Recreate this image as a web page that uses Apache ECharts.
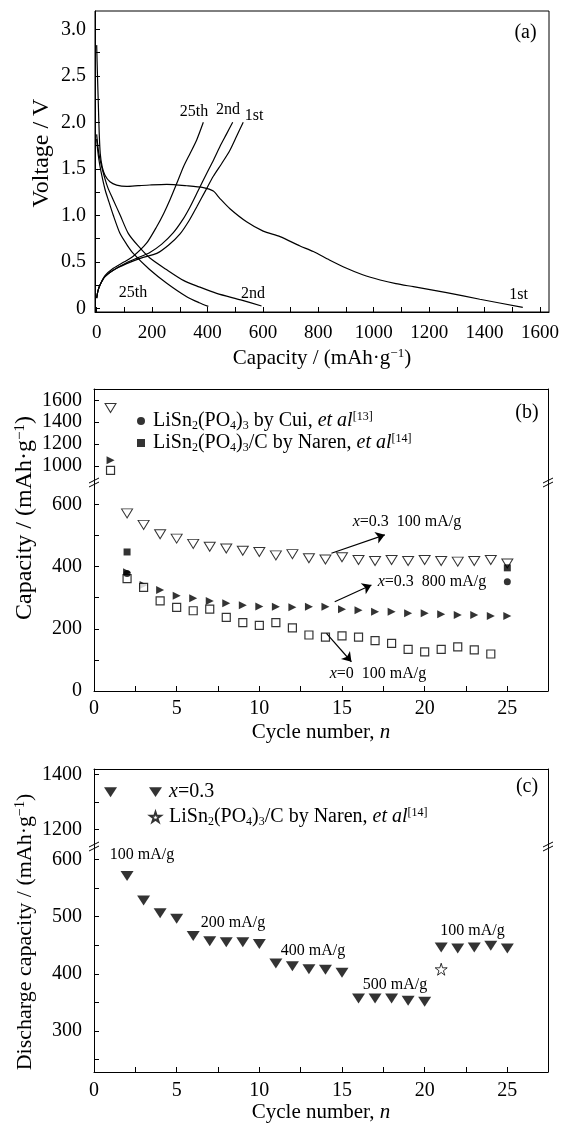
<!DOCTYPE html>
<html>
<head>
<meta charset="utf-8">
<script src="https://cdn.jsdelivr.net/npm/echarts@6/dist/echarts.min.js"></script>
<style>
  html, body { margin: 0; padding: 0; background: #fff; }
  #chart { width: 573px; height: 1126px; }
</style>
</head>
<body>
<div id="chart"></div>
<script>
// ---- panel (a): voltage profiles, [capacity mAh/g, voltage V]
const discharge1 = [[0,2.83],[3,2.5],[6,2.2],[9,1.9],[13,1.66],[20,1.52],[30,1.43],[48,1.36],[72,1.325],[108,1.31],[150,1.318],[192,1.326],[253,1.333],[325,1.318],[385,1.298],[421,1.26],[445,1.18],[481,1.07],[541,0.93],[601,0.83],[662,0.77],[734,0.67],[782,0.61],[840,0.52],[902,0.43],[960,0.36],[1023,0.304],[1080,0.265],[1143,0.232],[1263,0.168],[1383,0.097],[1538,0.01]];
const charge1 = [[0,0.11],[4,0.18],[12,0.25],[30,0.34],[60,0.41],[108,0.48],[160,0.54],[217,0.59],[260,0.68],[301,0.8],[335,0.95],[361,1.09],[392,1.26],[421,1.42],[452,1.56],[481,1.7],[505,1.85],[529,2.0]];
const discharge2 = [[0,1.87],[3,1.78],[8,1.66],[20,1.5],[40,1.3],[60,1.165],[85,1.0],[114,0.806],[150,0.67],[192,0.54],[250,0.42],[313,0.3],[370,0.23],[433,0.16],[520,0.09],[595,0.025]];
const charge2 = [[0,0.11],[4,0.18],[12,0.25],[30,0.34],[60,0.41],[108,0.49],[150,0.545],[192,0.6],[235,0.69],[276,0.81],[310,0.95],[337,1.09],[367,1.27],[397,1.45],[421,1.59],[445,1.74],[468,1.87],[491,2.0]];
const discharge25 = [[0,1.82],[3,1.72],[8,1.6],[15,1.48],[30,1.28],[42,1.165],[60,1.0],[84,0.806],[110,0.68],[132,0.59],[190,0.42],[253,0.27],[325,0.125],[370,0.06],[403,0.02]];
const charge25 = [[0,0.11],[4,0.18],[12,0.25],[30,0.35],[60,0.43],[100,0.5],[132,0.56],[180,0.7],[217,0.88],[242,1.02],[265,1.17],[290,1.35],[313,1.52],[338,1.67],[361,1.81],[385,2.0]];

// ---- panel (b): cycling, capacity mAh/g
const cycles = [1,2,3,4,5,6,7,8,9,10,11,12,13,14,15,16,17,18,19,20,21,22,23,24,25];
const x03at100 = [1530,571,534,504,490,473,464,458,451,447,436,440,427,423,430,421,418,421,418,421,418,416,418,421,410];
const x03at800 = [1052,382,341,325,306,298,289,282,276,272,271,269,271,271,263,260,255,255,250,250,247,244,244,241,241];
const x0at100 = [961,361,333,290,269,258,263,237,220,211,220,203,180,173,177,173,162,153,134,126,134,142,132,119];
const cuiCycles = [2, 25];
const cuiValues = [378, 351];
const narenCycles = [2, 25];
const narenValues = [447, 396];

// ---- panel (c): rate capability, discharge capacity mAh/g
const rateValues = [1335,571,528,506,496,466,457,455,455,452,418,413,408,407,402,357,357,357,353,351,446,444,446,449,444];
const narenRateCycles = [21];
const narenRateValues = [408];

// ---- tick values
const capTicksA = [0,200,400,600,800,1000,1200,1400,1600];
const capMinorA = [0,100,200,300,400,500,600,700,800,900,1000,1100,1200,1300,1400,1500,1600];
const voltTicks = [0,0.5,1.0,1.5,2.0,2.5,3.0];
const voltMinor = [0,0.25,0.5,0.75,1.0,1.25,1.5,1.75,2.0,2.25,2.5,2.75,3.0];
const cycleTicks = [0,5,10,15,20,25];
const cycleMinor = [2.5,5,7.5,10,12.5,15,17.5,20,22.5,25];
const capTicksBUp = [1000,1200,1400,1600];
const capTicksBLow = [0,200,400,600];
const capMinorBLow = [100,200,300,400,500,600];
const capTicksCUp = [1200,1400];
const capMinorCUp = [1200,1300,1400];
const capTicksCLow = [300,400,500,600];
const capMinorCLow = [250,300,350,400,450,500,550,600];

const SERIF = "'Liberation Serif', 'Times New Roman', serif";

function richSet(size) {
  return {
    n: { fontFamily: SERIF, fontSize: size, color: '#000' },
    i: { fontFamily: SERIF, fontSize: size, fontStyle: 'italic', color: '#000' },
    sup: { fontFamily: SERIF, fontSize: Math.round(size * 0.62), color: '#000', padding: [0, 0, 9, 0] },
    sub: { fontFamily: SERIF, fontSize: Math.round(size * 0.62), color: '#000', padding: [9, 0, 0, 0] }
  };
}

function split(cyc, vals, upper) {
  const out = [];
  vals.forEach((v, i) => {
    if ((v >= 800) === upper) out.push([cyc[i], v]);
  });
  return out;
}
function pairs(cyc, vals) {
  return vals.map((v, i) => [cyc[i], v]);
}

const black = { color: '#000' };
const plain = v => String(v);

function bottomX(grid, min, max, labels, ticks, name, labelSize, margin, gap) {
  return {
    type: 'value', gridIndex: grid, min: min, max: max, position: 'bottom',
    axisLine: { show: true, onZero: false, lineStyle: { color: '#000', width: 1 } },
    axisTick: { show: true, inside: true, length: 5, customValues: ticks, lineStyle: black },
    axisLabel: { customValues: labels, fontFamily: SERIF, fontSize: labelSize, color: '#000', margin: margin, formatter: plain },
    splitLine: { show: false },
    name: name, nameLocation: 'middle', nameGap: gap,
    nameTextStyle: { rich: richSet(21) }
  };
}
function topX(grid, min, max) {
  return {
    type: 'value', gridIndex: grid, min: min, max: max, position: 'top',
    axisLine: { show: true, onZero: false, lineStyle: { color: '#000', width: 1 } },
    axisTick: { show: false }, axisLabel: { show: false }, splitLine: { show: false }
  };
}
function leftY(grid, min, max, labels, ticks, margin, fmt) {
  return {
    type: 'value', gridIndex: grid, min: min, max: max, position: 'left',
    axisLine: { show: true, onZero: false, lineStyle: { color: '#000', width: 1 } },
    axisTick: { show: true, inside: true, length: 5, customValues: ticks, lineStyle: black },
    axisLabel: { customValues: labels, fontFamily: SERIF, fontSize: 20, color: '#000', margin: margin, formatter: fmt || plain },
    splitLine: { show: false }
  };
}
function rightY(grid, min, max) {
  return {
    type: 'value', gridIndex: grid, min: min, max: max, position: 'right',
    axisLine: { show: true, onZero: false, lineStyle: { color: '#000', width: 1 } },
    axisTick: { show: false }, axisLabel: { show: false }, splitLine: { show: false }
  };
}

function curve(data) {
  return {
    type: 'line', xAxisIndex: 0, yAxisIndex: 0, data: data, smooth: 0.25,
    showSymbol: false, lineStyle: { color: '#000', width: 1.2 }, silent: true
  };
}

const openDown = { symbol: 'triangle', symbolRotate: 180, symbolSize: [11, 9],
  itemStyle: { color: '#fff', borderColor: '#000', borderWidth: 1 } };
const filledRight = { symbol: 'triangle', symbolRotate: -90, symbolSize: [8, 8],
  itemStyle: { color: '#000' } };
const openSquare = { symbol: 'rect', symbolSize: 8,
  itemStyle: { color: '#fff', borderColor: '#000', borderWidth: 1.2 } };
const filledDown = { symbol: 'triangle', symbolRotate: 180, symbolSize: [13, 10],
  itemStyle: { color: '#000' } };
const STAR = 'path://M50,0 L61,35 L98,35 L68,57 L79,91 L50,70 L21,91 L32,57 L2,35 L39,35 Z';
const DOWN = 'path://M0,0 L12,0 L6,9 Z';

function scatter(name, xi, yi, data, look) {
  return Object.assign({ type: 'scatter', name: name, xAxisIndex: xi, yAxisIndex: yi, data: data, silent: true }, look);
}

const legendText = {
  cui: '{n|LiSn}{sub|2}{n|(PO}{sub|4}{n|)}{sub|3}{n| by Cui, }{i|et al}{sup|[13]}',
  narenB: '{n|LiSn}{sub|2}{n|(PO}{sub|4}{n|)}{sub|3}{n|/C by Naren, }{i|et al}{sup|[14]}',
  x03: '{i|x}{n|=0.3}',
  narenC: '{n|LiSn}{sub|2}{n|(PO}{sub|4}{n|)}{sub|3}{n|/C by Naren, }{i|et al}{sup|[14]}'
};

function arrow(from, to) {
  return { silent: true, symbol: ['none', 'arrow'], symbolSize: 9, animation: false,
    label: { show: false }, lineStyle: { color: '#000', width: 1.2, type: 'solid' },
    data: [[{ coord: from }, { coord: to }]] };
}

function label(text, x, y, size) {
  return { type: 'text', x: x, y: y, z: 50,
    style: { text: text, rich: richSet(size), fontFamily: SERIF, fontSize: size, fill: '#000', align: 'center', verticalAlign: 'middle' } };
}
function vLabel(text, x, y, size) {
  const t = label(text, x, y, size);
  t.rotation = Math.PI / 2;
  return t;
}
function breakMark(x, y) {
  return { type: 'group', x: x, y: y, z: 60, children: [
    { type: 'rect', shape: { x: -2, y: -1.2, width: 4, height: 3.4 }, style: { fill: '#fff' } },
    { type: 'line', shape: { x1: -5, y1: 1, x2: 5, y2: -4 }, style: { stroke: '#000', lineWidth: 1 } },
    { type: 'line', shape: { x1: -5, y1: 5, x2: 5, y2: 0 }, style: { stroke: '#000', lineWidth: 1 } }
  ] };
}

const chart = echarts.init(document.getElementById('chart'));

const option = {
  animation: false,
  backgroundColor: '#fff',
  grid: [
    { left: 95, top: 11, width: 454, height: 301, show: true, borderColor: '#000', borderWidth: 1 },
    { left: 94, top: 389, width: 454, height: 93 },
    { left: 94, top: 482, width: 454, height: 209 },
    { left: 94, top: 769, width: 454, height: 77 },
    { left: 94, top: 846, width: 454, height: 226 }
  ],
  xAxis: [
    bottomX(0, -6, 1632.6, capTicksA, capMinorA, '{n|Capacity / (mAh·g}{sup|−1}{n|)}', 19, 12, 35),
    topX(1, 0, 27.46),
    bottomX(2, 0, 27.46, cycleTicks, cycleMinor, '{n|Cycle number, }{i|n}', 20, 8, 31),
    topX(3, 0, 27.46),
    bottomX(4, 0, 27.46, cycleTicks, cycleMinor, '{n|Cycle number, }{i|n}', 20, 9, 30)
  ],
  yAxis: [
    leftY(0, -0.04, 3.197, voltTicks, voltMinor, 9, v => (v === 0 ? '0' : v.toFixed(1))),
    leftY(1, 854, 1703, capTicksBUp, capTicksBUp, 12),
    rightY(1, 854, 1703),
    leftY(2, 0, 672, capTicksBLow, capMinorBLow, 12),
    rightY(2, 0, 672),
    leftY(3, 1139.3, 1419.3, capTicksCUp, capMinorCUp, 12),
    rightY(3, 1139.3, 1419.3),
    leftY(4, 228.3, 623.4, capTicksCLow, capMinorCLow, 12),
    rightY(4, 228.3, 623.4)
  ],
  legend: [
    { orient: 'vertical', left: 132, top: 405, itemWidth: 8, itemHeight: 8, itemGap: 0,
      selectedMode: false,
      data: [{ name: 'cui', icon: 'circle' }, { name: 'narenB', icon: 'rect' }],
      formatter: name => legendText[name],
      textStyle: { fontFamily: SERIF, fontSize: 20, color: '#000', lineHeight: 22, padding: [0, 0, 0, 3], rich: richSet(20) } },
    { orient: 'vertical', left: 144, top: 776, itemWidth: 13, itemHeight: 10, itemGap: 3,
      selectedMode: false,
      data: [{ name: 'x03', icon: DOWN }, { name: 'narenC', icon: STAR }],
      formatter: name => legendText[name],
      textStyle: { fontFamily: SERIF, fontSize: 20, color: '#000', lineHeight: 22, padding: [0, 0, 0, 2], rich: richSet(20) } }
  ],
  series: [
    curve(discharge1), curve(charge1), curve(discharge2), curve(charge2), curve(discharge25), curve(charge25),

    scatter('t100', 1, 1, split(cycles, x03at100, true), openDown),
    scatter('t800', 1, 1, split(cycles, x03at800, true), filledRight),
    scatter('s0', 1, 1, split(cycles, x0at100, true), openSquare),
    scatter('t100', 2, 3, split(cycles, x03at100, false),
      Object.assign({ markLine: arrow([14.36, 443], [17.59, 502]) }, openDown)),
    scatter('t800', 2, 3, split(cycles, x03at800, false),
      Object.assign({ markLine: arrow([14.56, 287], [16.78, 341]) }, filledRight)),
    scatter('s0', 2, 3, split(cycles, x0at100, false),
      Object.assign({ markLine: arrow([14.06, 185], [15.57, 94]) }, openSquare)),
    scatter('cui', 2, 3, pairs(cuiCycles, cuiValues), { symbol: 'circle', symbolSize: 7, itemStyle: { color: '#000' } }),
    scatter('narenB', 2, 3, pairs(narenCycles, narenValues), { symbol: 'rect', symbolSize: 7, itemStyle: { color: '#000' } }),

    scatter('x03', 3, 5, split(cycles, rateValues, true), filledDown),
    scatter('x03', 4, 7, split(cycles, rateValues, false), filledDown),
    scatter('narenC', 4, 7, pairs(narenRateCycles, narenRateValues),
      { symbol: STAR, symbolSize: 12, itemStyle: { color: '#fff', borderColor: '#000', borderWidth: 1 } })
  ],
  graphic: [
    label('{n|(a)}', 525.5, 33, 20),
    label('{n|25th}', 194, 112, 16),
    label('{n|2nd}', 228, 110, 16),
    label('{n|1st}', 254, 116, 16),
    label('{n|25th}', 133, 293, 16),
    label('{n|2nd}', 253, 294, 16),
    label('{n|1st}', 518.5, 295, 16),
    vLabel('{n|Voltage / V}', 41.7, 153, 24),

    label('{n|(b)}', 527, 413, 20),
    label('{i|x}{n|=0.3  100 mA/g}', 407, 522, 16),
    label('{i|x}{n|=0.3  800 mA/g}', 432, 582, 16),
    label('{i|x}{n|=0  100 mA/g}', 378, 674, 16),
    vLabel('{n|Capacity / (mAh·g}{sup|−1}{n|)}', 25, 518, 24),
    breakMark(94, 482), breakMark(548, 482),

    label('{n|(c)}', 527, 787, 20),
    label('{n|100 mA/g}', 142, 855, 16),
    label('{n|200 mA/g}', 233, 923, 16),
    label('{n|400 mA/g}', 313, 951, 16),
    label('{n|500 mA/g}', 395, 985, 16),
    label('{n|100 mA/g}', 472.5, 931, 16),
    vLabel('{n|Discharge capacity / (mAh·g}{sup|−1}{n|)}', 25, 932, 22),
    breakMark(94, 846), breakMark(548, 846)
  ]
};

chart.setOption(option);
</script>
</body>
</html>
